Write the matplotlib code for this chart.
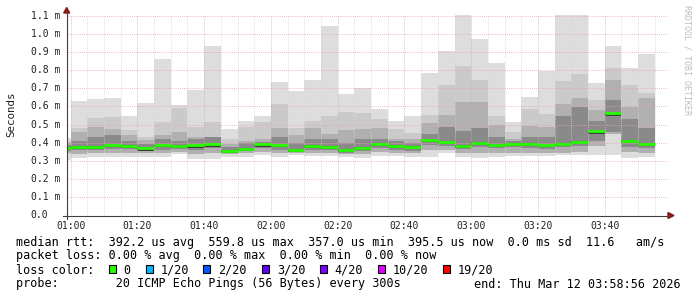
import matplotlib
matplotlib.use('Agg')
import matplotlib.pyplot as plt
from matplotlib.lines import Line2D
from matplotlib.patches import Polygon, Rectangle

# smokeping: 5 minute slots, minutes relative to 01:00
slots = list(range(-5, 175, 5))

# median rtt per slot (ms)
med = [0.370, 0.378, 0.376, 0.385, 0.383, 0.368, 0.385, 0.382, 0.384, 0.390, 0.356, 0.367,
       0.390, 0.385, 0.361, 0.383, 0.376, 0.358, 0.369, 0.391, 0.382, 0.378, 0.413, 0.402,
       0.382, 0.397, 0.387, 0.392, 0.392, 0.385, 0.395, 0.404, 0.462, 0.561, 0.410, 0.394]
# smoke: max / upper bands / lower bands / min
mx = [0.425, 0.630, 0.641, 0.646, 0.547, 0.619, 0.862, 0.608, 0.690, 0.934, 0.475, 0.519,
      0.547, 0.735, 0.685, 0.746, 1.044, 0.668, 0.703, 0.587, 0.521, 0.549, 0.786, 0.906,
      1.150, 0.972, 0.840, 0.512, 0.654, 0.797, 1.150, 1.150, 0.727, 0.934, 0.810, 0.889]
hi1 = [0.410, 0.483, 0.538, 0.543, 0.470, 0.433, 0.514, 0.593, 0.488, 0.514, 0.418, 0.488,
       0.514, 0.613, 0.479, 0.519, 0.549, 0.571, 0.565, 0.532, 0.473, 0.451, 0.552, 0.718,
       0.823, 0.746, 0.547, 0.457, 0.587, 0.558, 0.742, 0.779, 0.635, 0.810, 0.718, 0.676]
hi2 = [0.400, 0.460, 0.488, 0.473, 0.440, 0.415, 0.442, 0.460, 0.430, 0.433, 0.395, 0.410,
       0.420, 0.479, 0.440, 0.483, 0.447, 0.470, 0.477, 0.480, 0.420, 0.420, 0.506, 0.552,
       0.626, 0.626, 0.497, 0.420, 0.492, 0.488, 0.613, 0.648, 0.580, 0.746, 0.599, 0.645]
hi3 = [0.385, 0.410, 0.430, 0.440, 0.410, 0.390, 0.420, 0.410, 0.420, 0.430, 0.375, 0.400,
       0.405, 0.430, 0.400, 0.420, 0.420, 0.400, 0.420, 0.420, 0.410, 0.400, 0.450, 0.488,
       0.464, 0.483, 0.430, 0.410, 0.430, 0.430, 0.547, 0.599, 0.520, 0.635, 0.530, 0.480]
lo3 = [0.355, 0.360, 0.360, 0.365, 0.365, 0.355, 0.360, 0.365, 0.360, 0.370, 0.345, 0.355,
       0.370, 0.360, 0.350, 0.360, 0.360, 0.345, 0.355, 0.370, 0.360, 0.355, 0.385, 0.380,
       0.365, 0.375, 0.370, 0.375, 0.370, 0.365, 0.375, 0.380, 0.410, 0.460, 0.375, 0.370]
lo2 = [0.340, 0.335, 0.340, 0.345, 0.345, 0.340, 0.345, 0.350, 0.335, 0.345, 0.335, 0.340,
       0.350, 0.340, 0.340, 0.340, 0.340, 0.335, 0.335, 0.350, 0.345, 0.340, 0.360, 0.360,
       0.345, 0.345, 0.345, 0.345, 0.345, 0.345, 0.345, 0.350, 0.380, 0.450, 0.350, 0.345]
mn = [0.305, 0.313, 0.322, 0.320, 0.322, 0.318, 0.322, 0.337, 0.307, 0.311, 0.322, 0.322,
      0.330, 0.322, 0.330, 0.326, 0.326, 0.320, 0.315, 0.326, 0.326, 0.319, 0.322, 0.341,
      0.322, 0.315, 0.322, 0.326, 0.326, 0.326, 0.330, 0.333, 0.330, 0.330, 0.315, 0.322]

xtick_pos = [0, 20, 40, 60, 80, 100, 120, 140, 160]
xtick_lab = ['01:00', '01:20', '01:40', '02:00', '02:20', '02:40', '03:00', '03:20', '03:40']
ytick_val = [0.0, 0.1, 0.2, 0.3, 0.4, 0.5, 0.6, 0.7, 0.8, 0.9, 1.0, 1.1]

loss_lab = ['0', '1/20', '2/20', '3/20', '4/20', '10/20', '19/20']
loss_col = ['#26ff00', '#00b8ff', '#0059ff', '#5e00ff', '#7e00ff', '#dd00ff', '#ff0000']

W, H = 697, 297
MONO = 'DejaVu Sans Mono'


def fx(x):
    return x / W


def fy(y):
    return 1 - y / H


fig = plt.figure(figsize=(W / 100, H / 100), dpi=100)
fig.patch.set_facecolor('white')
ax = fig.add_axes([fx(67), fy(215), 601 / W, 200 / H])
ax.set_xlim(-1.07, 178.93)
ax.set_ylim(0, 200 / 181)
for s in ax.spines.values():
    s.set_visible(False)

# smoke layers
layers = [(mn, mx, '#dddddd'), (lo2, hi1, '#cacaca'), (lo2, hi2, '#b0b0b0'),
          (lo3, hi3, '#8a8a8a')]
for lo, hi, c in layers:
    ax.bar(slots, [h - l for h, l in zip(hi, lo)], bottom=lo, width=5, align='edge',
           color=c, linewidth=0, antialiased=False, zorder=1)
ax.bar(slots, 0.016, bottom=[m - 0.012 for m in med], width=5, align='edge',
       color='#3c3c3c', linewidth=0, antialiased=False, zorder=1)

# median
ax.hlines(med, slots, [s + 5 for s in slots], color='#26ff00', lw=2.0, zorder=4)

# grid
ax.set_xticks(xtick_pos)
ax.set_xticks(list(range(5, 180, 5)), minor=True)
ax.set_yticks(ytick_val)
ax.set_axisbelow(False)
ax.grid(which='minor', axis='x', color='#d6d6d6', ls=(0, (1, 1.5)), lw=0.6, zorder=2)
ax.grid(which='major', color='#e6a6a6', ls=(0, (1, 1.5)), lw=0.6, zorder=2)
ax.tick_params(which='both', length=0)
ax.set_xticklabels(xtick_lab, family=MONO, fontsize=7, color='#222222')
ax.tick_params(axis='x', pad=4)
ax.set_yticklabels([])
for v in ytick_val:
    if v == 0:
        ax.text(-0.032, v, '0.0', transform=ax.get_yaxis_transform(), ha='right',
                va='center', family=MONO, fontsize=7, color='#222222')
    else:
        ax.text(-0.0117, v, f'{v:.1f} m', transform=ax.get_yaxis_transform(), ha='right',
                va='center', family=MONO, fontsize=7, color='#222222')

# axes lines with arrows
axc = '#404040'
arr = '#8b1a1a'
fig.add_artist(Line2D([fx(63), fx(669)], [fy(215.5), fy(215.5)], color=axc, lw=0.8))
fig.add_artist(Line2D([fx(66.7), fx(66.7)], [fy(219), fy(12)], color=axc, lw=0.8))
fig.add_artist(Polygon([[fx(668), fy(212.5)], [fx(668), fy(218.5)], [fx(674), fy(215.5)]],
                       closed=True, color=arr, transform=fig.transFigure))
fig.add_artist(Polygon([[fx(63.7), fy(13)], [fx(69.7), fy(13)], [fx(66.7), fy(7.5)]],
                       closed=True, color=arr, transform=fig.transFigure))

fig.text(fx(11), fy(114.5), 'Seconds', rotation=90, ha='center', va='center',
         family=MONO, fontsize=7.8, color='#222222')
fig.text(fx(687.5), fy(60), 'RRDTOOL / TOBI OETIKER', rotation=270, ha='center',
         va='center', family=MONO, fontsize=6, color='#bdbdbd')

# legend lines
fs = 8.5
fig.text(fx(16), fy(245.7), 'median rtt:  392.2 us avg  559.8 us max  357.0 us min  '
         '395.5 us now  0.0 ms sd  11.6   am/s', family=MONO, fontsize=fs, va='baseline')
fig.text(fx(16), fy(259.5), 'packet loss: 0.00 % avg  0.00 % max  0.00 % min  0.00 % now',
         family=MONO, fontsize=fs, va='baseline')
fig.text(fx(16), fy(273.5), 'loss color:', family=MONO, fontsize=fs, va='baseline')
box_x = [109, 145.7, 203.3, 262.2, 320, 377.8, 442.7]
for bx, lab, c in zip(box_x, loss_lab, loss_col):
    fig.add_artist(Rectangle((fx(bx), fy(273.3)), 7 / W, 8 / H, facecolor=c,
                             edgecolor='black', lw=0.8, transform=fig.transFigure))
    fig.text(fx(bx + 14.5), fy(273.5), lab, family=MONO, fontsize=fs, va='baseline')
fig.text(fx(16), fy(287.5), 'probe:        20 ICMP Echo Pings (56 Bytes) every 300s',
         family=MONO, fontsize=fs, va='baseline')
fig.text(fx(681), fy(287.5), 'end: Thu Mar 12 03:58:56 2026', family=MONO, fontsize=fs,
         va='baseline', ha='right')

fig.savefig('out.png', dpi=100, facecolor='white')
